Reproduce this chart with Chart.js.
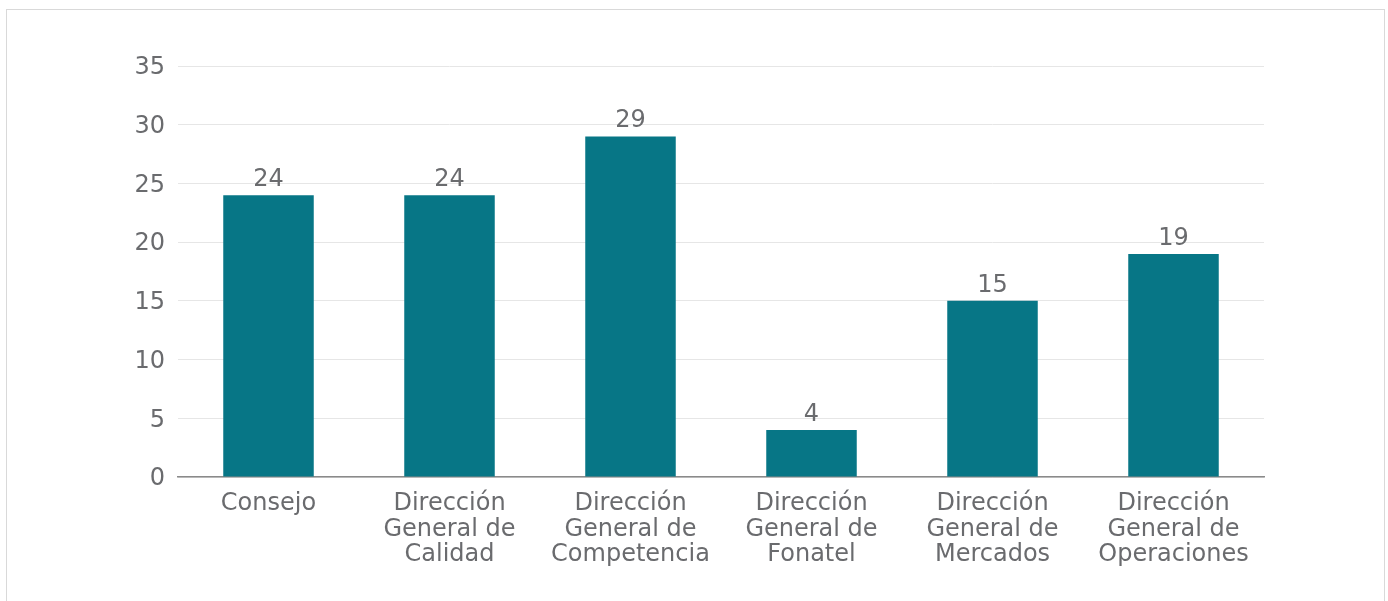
<!DOCTYPE html>
<html><head><meta charset="utf-8">
<script src="https://cdn.jsdelivr.net/npm/chart.js@4.4.1/dist/chart.umd.min.js"></script>
<style>
html,body{margin:0;padding:0;background:#fff;overflow:hidden;}
#box{position:absolute;left:6px;top:9px;width:1377px;height:600px;border:1px solid #d9d9d9;}
#wrap{position:relative;width:1377px;height:600px;}
</style></head>
<body>
<div id="box"><div id="wrap"><canvas id="c"></canvas></div></div>
<script>
const categories = [
  ["Consejo"],
  ["Dirección","General de","Calidad"],
  ["Dirección","General de","Competencia"],
  ["Dirección","General de","Fonatel"],
  ["Dirección","General de","Mercados"],
  ["Dirección","General de","Operaciones"]
];
const values = [24, 24, 29, 4, 15, 19];
const yTicks = [0, 5, 10, 15, 20, 25, 30, 35];

const FONT = "'DejaVu Sans'";
const TXT = "#6a6b6e";
const BAR = "#077686";

const valueLabels = {
  id: "valueLabels",
  afterDatasetsDraw(chart) {
    const ctx = chart.ctx;
    const meta = chart.getDatasetMeta(0);
    ctx.save();
    ctx.font = "24px " + FONT;
    ctx.fillStyle = TXT;
    ctx.textAlign = "center";
    ctx.textBaseline = "alphabetic";
    meta.data.forEach((el, i) => {
      ctx.fillText(String(chart.data.datasets[0].data[i]), el.x, el.y - 9);
    });
    ctx.restore();
  }
};

new Chart(document.getElementById("c"), {
  type: "bar",
  data: {
    labels: categories,
    datasets: [{ data: values, backgroundColor: BAR, categoryPercentage: 1, barPercentage: 0.5 }]
  },
  options: {
    responsive: true,
    maintainAspectRatio: false,
    animation: false,
    layout: { padding: { top: 56, right: 120, left: 0, bottom: 0 } },
    plugins: { legend: { display: false }, tooltip: { enabled: false } },
    scales: {
      x: {
        grid: { display: false, drawTicks: false },
        border: { color: "#8a8a8a", width: 1.5 },
        ticks: { color: TXT, font: { family: FONT, size: 24, lineHeight: 1.07 }, padding: 14, maxRotation: 0, autoSkip: false },
        afterFit(s) { s.height = 133; }
      },
      y: {
        min: 0, max: 35,
        afterBuildTicks(s) { s.ticks = yTicks.map(v => ({ value: v })); },
        grid: { color: "#e6e6e6", drawTicks: false, lineWidth: 1 },
        border: { display: false },
        ticks: { color: TXT, font: { family: FONT, size: 24 }, padding: 13, labelOffset: 2 },
        afterFit(s) { s.width = 171; }
      }
    }
  },
  plugins: [valueLabels]
});
</script>
</body></html>
